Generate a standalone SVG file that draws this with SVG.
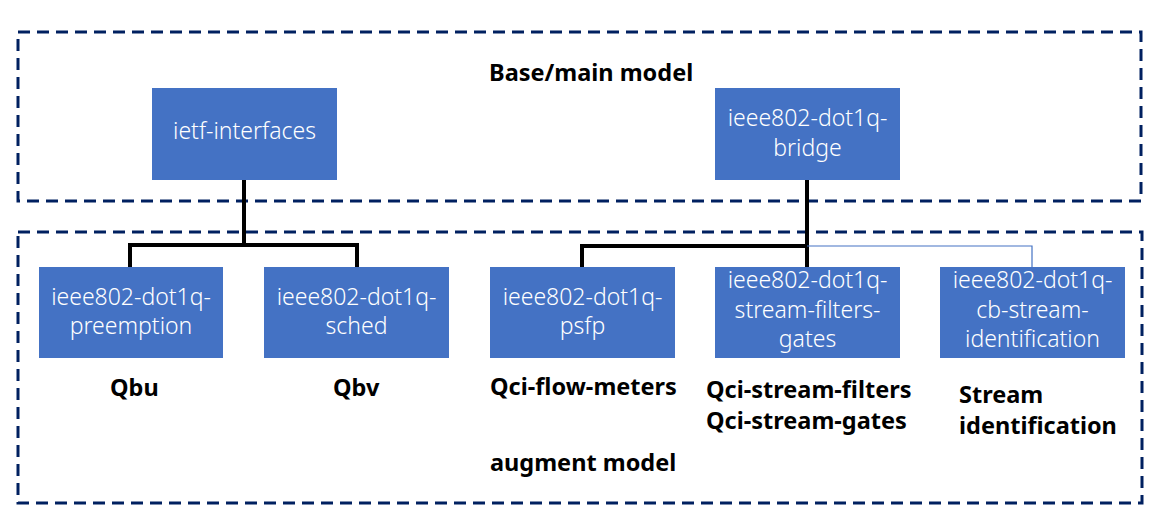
<svg xmlns="http://www.w3.org/2000/svg" width="1163" height="521" viewBox="0 0 1163 521">
<style>
.frame{fill:none;stroke:#002060;stroke-width:3;stroke-dasharray:12 7}
.box{fill:#4472C4}
.bt{font-family:"Noto Sans","DejaVu Sans",sans-serif;font-size:23px;font-weight:300;fill:#ffffff;text-anchor:middle}
.lbl{font-family:"Noto Sans","DejaVu Sans",sans-serif;font-size:23.5px;font-weight:bold;fill:#000000}
.thick{fill:none;stroke:#000000;stroke-width:4}
.thin{fill:none;stroke:#4472C4;stroke-width:1.2}
</style>
<rect width="1163" height="521" fill="#ffffff"/>
<g id="frames">
<rect class="frame" x="18" y="32" width="1123" height="169"/>
<rect class="frame" x="18" y="232" width="1124" height="271"/>
</g>
<g id="connectors">
<polyline class="thick" points="244,180 244,245"/>
<polyline class="thick" points="130,267 130,245 357,245 357,267"/>
<polyline class="thick" points="807,180 807,267"/>
<polyline class="thick" points="582,267 582,246 807,246"/>
<polyline class="thin" points="807,246 1032,246 1032,267"/>
</g>
<g id="ietf-interfaces"><rect class="box" x="152" y="88" width="185" height="92"/><text class="bt" x="244.5" y="139">ietf-interfaces</text></g>
<g id="bridge"><rect class="box" x="715" y="88" width="185" height="92"/><text class="bt" x="807.5" y="126">ieee802-dot1q-</text><text class="bt" x="807.5" y="156">bridge</text></g>
<g id="preemption"><rect class="box" x="39" y="267" width="184" height="91"/><text class="bt" x="131" y="305">ieee802-dot1q-</text><text class="bt" x="131" y="334">preemption</text></g>
<g id="sched"><rect class="box" x="264" y="267" width="185" height="91"/><text class="bt" x="356.5" y="305">ieee802-dot1q-</text><text class="bt" x="356.5" y="334">sched</text></g>
<g id="psfp"><rect class="box" x="490" y="267" width="185" height="91"/><text class="bt" x="582.5" y="305">ieee802-dot1q-</text><text class="bt" x="582.5" y="334">psfp</text></g>
<g id="stream-filters-gates"><rect class="box" x="715" y="267" width="185" height="91"/><text class="bt" x="807.5" y="288">ieee802-dot1q-</text><text class="bt" x="807.5" y="318">stream-filters-</text><text class="bt" x="807.5" y="347">gates</text></g>
<g id="cb-stream-identification"><rect class="box" x="940" y="267" width="185" height="91"/><text class="bt" x="1032.5" y="288">ieee802-dot1q-</text><text class="bt" x="1032.5" y="318">cb-stream-</text><text class="bt" x="1032.5" y="347">identification</text></g>
<g id="labels">
<text class="lbl" x="489" y="81">Base/main model</text>
<text class="lbl" x="110" y="396">Qbu</text>
<text class="lbl" x="333" y="396">Qbv</text>
<text class="lbl" x="490" y="395">Qci-flow-meters</text>
<text class="lbl" x="706" y="398">Qci-stream-filters</text>
<text class="lbl" x="706" y="429">Qci-stream-gates</text>
<text class="lbl" x="959" y="403">Stream</text>
<text class="lbl" x="959" y="434">identification</text>
<text class="lbl" x="490" y="471">augment model</text>
</g>
</svg>
